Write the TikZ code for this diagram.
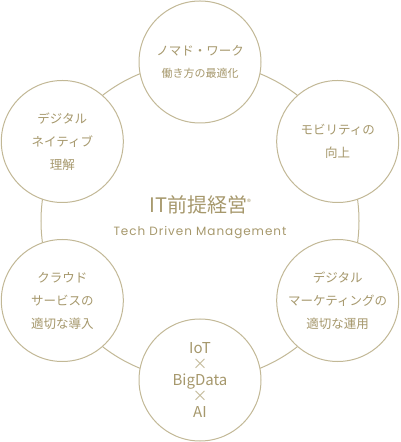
\documentclass[tikz,border=0pt]{standalone}
\usepackage{fontspec}
\setmainfont{Noto Sans CJK JP}
\newfontfamily\enfont{Poppins}[LetterSpace=8]
\usetikzlibrary{positioning}
\definecolor{gold}{RGB}{166,152,108}
\definecolor{goldline}{RGB}{194,184,150}

\begin{document}
\begin{tikzpicture}[
                        x=1bp,
                        y=1bp,
                        every node/.style={text=gold},
                        node distance=5bp
                    ]
                    \tikzstyle{theme}=[circle,draw=goldline,line width=1bp,fill=white,
                                       minimum size=122bp,inner sep=0pt,align=center,
                                       font=\fontsize{12.5bp}{23bp}\selectfont]

                    \useasboundingbox (-200,-221) rectangle (200,221);
                    \draw[goldline,line width=1bp] (0,0) circle (159);

                    \node (title) at (0,16) {\fontsize{20bp}{20bp}\selectfont IT前提経営\raisebox{7bp}{\fontsize{8bp}{8bp}\selectfont ®}};
                    \node (sub) [below=of title] {\fontsize{12bp}{12bp}\selectfont\enfont Tech Driven Management};

                    \node[theme] (nomad)   at (90:159)  {ノマド・ワーク\\[-1bp]{\fontsize{11bp}{22bp}\selectfont 働き方の最適化}};
                    \node[theme] (mobile)  at (30:159)  {モビリティの\\向上};
                    \node[theme] (market)  at (-30:159) {デジタル\\マーケティングの\\適切な運用};
                    \node[theme,font=\fontsize{15bp}{15.8bp}\selectfont] (iot) at (-90:159)
                        {IoT\\{\color{goldline}×}\\BigData\\{\color{goldline}×}\\AI};
                    \node[theme] (cloud)   at (210:159) {クラウド\\サービスの\\適切な導入};
                    \node[theme] (native)  at (150:159) {デジタル\\ネイティブ\\理解};
                \end{tikzpicture}
\end{document}
